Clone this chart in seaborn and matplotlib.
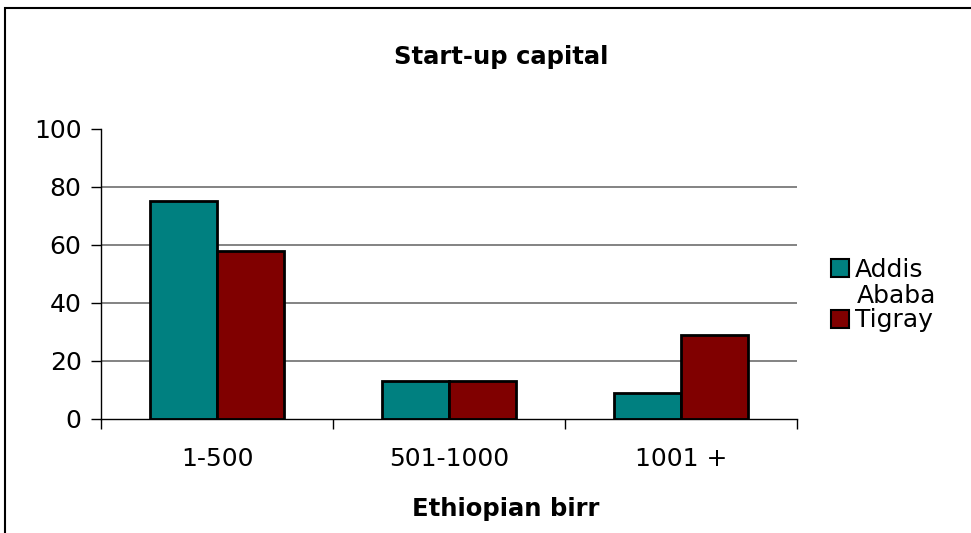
import matplotlib
matplotlib.use("Agg")
import matplotlib.pyplot as plt
import seaborn as sns
import pandas as pd
from matplotlib.patches import Rectangle, Patch

# data
categories = ["1-500", "501-1000", "1001 +"]
addis = [75, 13, 9]
tigray = [58, 13, 29]
series = ["Addis Ababa", "Tigray"]
colors = ["#008080", "#800000"]

df = pd.DataFrame({
    "group": categories * 2,
    "value": addis + tigray,
    "region": [series[0]] * 3 + [series[1]] * 3,
})

sns.set_style("white")
plt.rcParams["font.family"] = ["DejaVu Sans"]
plt.rcParams["text.color"] = "black"
plt.rcParams["axes.labelcolor"] = "black"
plt.rcParams["xtick.color"] = "black"
plt.rcParams["ytick.color"] = "black"

fig = plt.figure(figsize=(9.71, 5.33), dpi=100)
ax = fig.add_axes([101 / 971, 1 - 419 / 533, 696 / 971, 290 / 533])

sns.barplot(data=df, x="group", y="value", hue="region", palette=colors,
            width=0.575, edgecolor="black", linewidth=2, saturation=1,
            ax=ax, legend=False)

ax.set_ylim(0, 100)
ax.set_xlim(-0.5, 2.5)
ax.set_yticks([0, 20, 40, 60, 80, 100])
for y in [20, 40, 60, 80]:
    ax.axhline(y, color="#6e6e6e", lw=1.2, zorder=0)

ax.spines["top"].set_visible(False)
ax.spines["right"].set_visible(False)
for s in ["left", "bottom"]:
    ax.spines[s].set_color("black")
    ax.spines[s].set_linewidth(1)

ax.tick_params(axis="y", direction="out", length=7, width=1, color="black",
               labelsize=18, pad=7, left=True)
ax.set_xticks([-0.5, 0.5, 1.5, 2.5], minor=True)
ax.tick_params(axis="x", which="minor", direction="out", length=7, width=1, color="black", bottom=True)
ax.tick_params(axis="x", which="major", length=0, labelsize=18, pad=20)

ax.set_xlabel("Ethiopian birr", fontsize=17.5, fontweight="bold")
ax.xaxis.set_label_coords((506 - 101) / 696, (419 - 497) / 290)
ax.set_ylabel("")
fig.text(501 / 971, 1 - 57 / 533, "Start-up capital", ha="center", va="center",
         fontsize=17.5, fontweight="bold")

# legend: the long label wraps onto a second line in the original
handles = [Patch(facecolor=c, edgecolor="black", linewidth=1.5) for c in colors]
fig.legend(handles, ["Addis", "Tigray"], loc="upper left",
           bbox_to_anchor=(831 / 971, 1 - 258 / 533),
           frameon=False, fontsize=18, handlelength=0.72, handleheight=0.72,
           handletextpad=0.25, labelspacing=1.06, borderaxespad=0, borderpad=0)
fig.text(857 / 971, 1 - 296 / 533, "Ababa", ha="left", va="center", fontsize=18)

# outer chart frame (runs off the right and bottom edges)
fig.patches.append(Rectangle((5 / 971, -0.05), 1.0, 1 - 8 / 533 + 0.05,
                             transform=fig.transFigure, fill=False,
                             edgecolor="black", linewidth=1.5))

fig.savefig("out.png", dpi=100)
